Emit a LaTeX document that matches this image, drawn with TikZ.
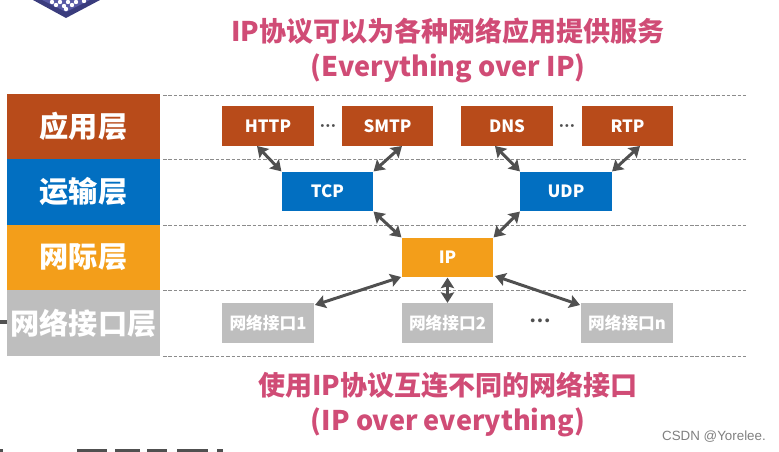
\documentclass[tikz,border=0pt]{standalone}
\usepackage{fontspec}
\setmainfont{Noto Sans CJK SC}
\newfontfamily\markfont{Liberation Sans}
\usetikzlibrary{arrows.meta}

\definecolor{appcolor}{RGB}{184,75,26}
\definecolor{transcolor}{RGB}{2,111,193}
\definecolor{netcolor}{RGB}{243,158,26}
\definecolor{linkcolor}{RGB}{190,190,190}
\definecolor{titlecolor}{RGB}{208,76,118}
\definecolor{arrowcolor}{RGB}{80,80,80}
\definecolor{chipedge}{RGB}{58,60,125}
\definecolor{chipface}{RGB}{88,90,165}

\newcommand{\layername}[1]{\raisebox{-1.2pt}{#1}}

\tikzset{
    layerbox/.style={minimum width=3.06cm, minimum height=1.31cm, inner sep=0pt, text=white, font=\fontsize{16.6pt}{18pt}\selectfont\bfseries},
    protobox/.style={minimum width=1.83cm, minimum height=0.79cm, inner sep=0pt, text=white, font=\fontsize{9.6pt}{11pt}\selectfont\bfseries},
    portbox/.style={protobox, fill=linkcolor, font=\fontsize{9.5pt}{11pt}\selectfont\bfseries},
    levelline/.style={dash pattern=on 2pt off 1pt, black!45, line width=0.4pt},
    linkarrow/.style={{Stealth[length=6pt,width=7.5pt,inset=1pt]}-{Stealth[length=6pt,width=7.5pt,inset=1pt]}, arrowcolor, line width=1.7pt},
    titletext/.style={text=titlecolor, font=\fontsize{15.4pt}{17pt}\selectfont\bfseries},
    moredots/.style={text=arrowcolor, inner sep=0pt, font=\markfont\fontsize{6pt}{7pt}\selectfont}
}

\begin{document}
\begin{tikzpicture}[x=0.02cm, y=-0.02cm]

    \useasboundingbox (0,0) rectangle (779,452);

    % Chip corner at the top
    \fill[chipedge] (33,0) -- (66,18) -- (100,0) -- cycle;
    \fill[chipface] (42,0) -- (66,12) -- (90,0) -- cycle;
    \foreach \x/\y in {52/2,60/2,68/2,76/2,84/1,56/5,64/6,72/5,66/9}
        \fill[white] (\x,\y) circle (2.2);

    % Stub left of the bottom layer
    \draw[arrowcolor, line width=1.8pt] (0,322) -- (7,322);

    % Cut off line of writing at the bottom edge
    \foreach \a/\b in {0/3,77/107,115/140,147/167,177/208,217/223}
        \fill[arrowcolor] (\a,449.5) rectangle (\b,452);

    % Layer column
    \node[layerbox, fill=appcolor] (App) at (83.5,126.5) {\layername{应用层}};
    \node[layerbox, fill=transcolor] (Trans) at (83.5,192) {\layername{运输层}};
    \node[layerbox, fill=netcolor] (Net) at (83.5,257.5) {\layername{网际层}};
    \node[layerbox, fill=linkcolor] (Link) at (83.5,323) {\layername{网络接口层}};

    % Dashed level lines
    \foreach \y in {95,159,225,290,356}
        \draw[levelline] (163,\y) -- (747,\y);

    % Protocols
    \node[protobox, fill=appcolor] (HTTP) at (268,126) {HTTP};
    \node[protobox, fill=appcolor] (SMTP) at (387.5,126) {SMTP};
    \node[protobox, fill=appcolor] (DNS) at (507,126) {DNS};
    \node[protobox, fill=appcolor] (RTP) at (627.5,126) {RTP};
    \node[protobox, fill=transcolor] (TCP) at (327.5,191.5) {TCP};
    \node[protobox, fill=transcolor] (UDP) at (566,191.5) {UDP};
    \node[protobox, fill=netcolor] (IP) at (447.5,257.5) {IP};

    % Network interfaces
    \node[portbox] (PortA) at (268,323) {网络接口1};
    \node[portbox] (PortB) at (447.5,323) {网络接口2};
    \node[portbox] (PortN) at (627,323) {网络接口n};

    % Dots between the boxes
    \node[moredots] (DotsA) at (328,127) {•\,•\,•};
    \node[moredots] (DotsB) at (567,127) {•\,•\,•};
    \node[moredots, font=\markfont\fontsize{8pt}{9pt}\selectfont] (DotsC) at (540,322) {•\,•\,•};

    % Free ends of the arrows on the box edges
    \coordinate (HTTPfoot) at (257,146);
    \coordinate (SMTPfoot) at (402,146);
    \coordinate (DNSfoot) at (495,146);
    \coordinate (RTPfoot) at (640,146);
    \coordinate (IPleft) at (401,277);
    \coordinate (IPright) at (495,276);
    \coordinate (PortAtop) at (315,305);
    \coordinate (PortNtop) at (580,305);

    % Arrows between the layers
    \draw[linkarrow] (HTTPfoot) -- (TCP.north west);
    \draw[linkarrow] (SMTPfoot) -- (TCP.north east);
    \draw[linkarrow] (DNSfoot) -- (UDP.north west);
    \draw[linkarrow] (RTPfoot) -- (UDP.north east);
    \draw[linkarrow] (TCP.south east) -- (IP.north west);
    \draw[linkarrow] (UDP.south west) -- (IP.north east);
    \draw[linkarrow] (IPleft) -- (PortAtop);
    \draw[linkarrow] (IP.south) -- (PortB.north);
    \draw[linkarrow] (IPright) -- (PortNtop);

    % Titles
    \node[titletext] (TitleA) at (448,31) {IP协议可以为各种网络应用提供服务};
    \node[titletext] (TitleB) at (448,68) {(Everything over IP)};
    \node[titletext] (TitleC) at (448,385) {使用IP协议互连不同的网络接口};
    \node[titletext] (TitleD) at (448,422) {(IP over everything)};

    % Mark in the corner
    \node[text=black!50, font=\markfont\fontsize{7.6pt}{9pt}\selectfont] (Mark) at (714,437) {CSDN @Yorelee.};

\end{tikzpicture}
\end{document}
